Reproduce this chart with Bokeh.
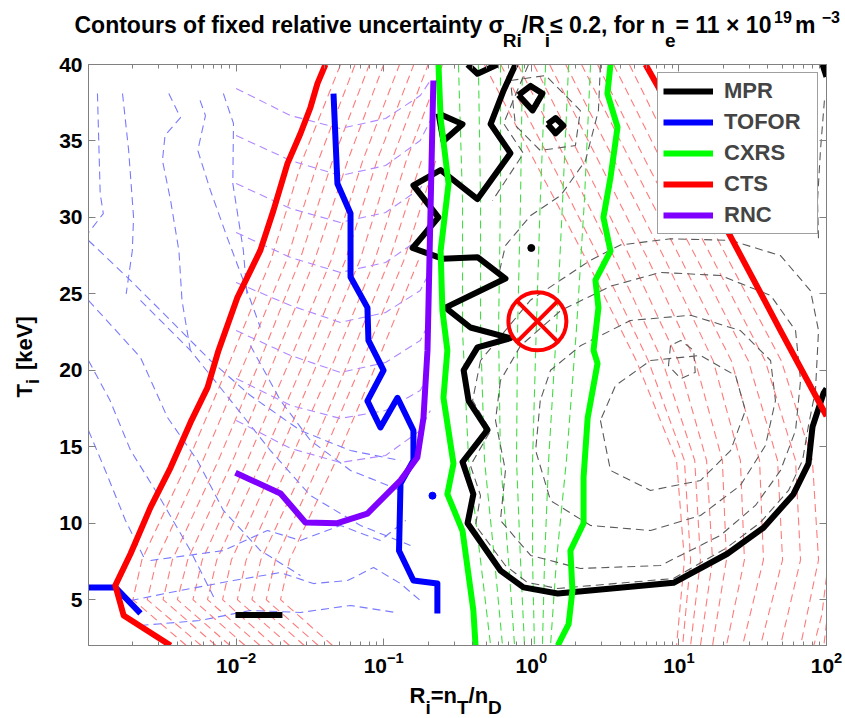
import math
from bokeh.plotting import figure
from bokeh.layouts import row, column
from bokeh.models import (Range1d, LogAxis, LinearAxis, FixedTicker, LogTickFormatter,
                          CustomJSTickFormatter, ColumnDataSource)
from bokeh.core.properties import value
from bokeh.embed import file_html
from bokeh.resources import INLINE

# ---------------- thick contours (sigma_R/R = 0.2) ----------------
MPR_R = [0.782, 0.649, 0.530, 0.722, 0.432, 0.243, 0.159, 0.235, 0.157, 0.250, 0.432, 0.668,
         0.262, 0.387, 0.722, 0.432, 0.348, 0.376, 0.505, 0.342, 0.405, 0.370, 0.618, 0.885,
         1.51, 9.19, 21.3, 37.4, 59.7, 75.5, 80.4, 95.5, 100]
MPR_T = [40, 38.3, 36.1, 34.2, 31.2, 33.1, 32.1, 30.0, 28.0, 27.3, 27.4, 26.0,
         24.1, 22.8, 22.1, 21.5, 20.0, 18.0, 16.1, 14.0, 11.9, 10.0, 6.9, 5.8,
         5.4, 6.1, 8.0, 9.7, 11.9, 13.9, 16.3, 18.5, 18.8]
MPR_ISLANDS_R = [[0.370, 0.432, 0.590],
                 [0.818, 0.989, 1.19, 1.02, 0.818],
                 [1.29, 1.46, 1.65, 1.46, 1.29],
                 [0.235, 0.342, 0.254, 0.235],
                 [0.0099, 0.0206],
                 [94, 100]]
MPR_ISLANDS_T = [[40, 39.4, 40],
                 [38.0, 38.6, 38.1, 37.0, 38.0],
                 [36.1, 36.5, 36.0, 35.5, 36.1],
                 [36.8, 36.1, 35.0, 36.8],
                 [4.0, 4.0],
                 [40, 39.2]]
MPR_DOT_R, MPR_DOT_T = [1.0], [28.0]

TOFOR_R = [0.0457, 0.0486, 0.0596, 0.0596, 0.0776, 0.0788, 0.0998, 0.0776, 0.095, 0.124,
           0.159, 0.159, 0.130, 0.127, 0.159, 0.231, 0.231]
TOFOR_T = [38.1, 32.2, 30.25, 26.1, 24.1, 21.95, 20.0, 18.0, 16.26, 18.2,
           16.06, 14.1, 12.6, 8.2, 6.25, 6.06, 4.1]
TOFOR_LEFT_R = [0.001, 0.00152, 0.00225]
TOFOR_LEFT_T = [5.8, 5.8, 4.1]
TOFOR_DOT_R, TOFOR_DOT_T = [0.214], [11.8]

CXRS_LOW_R = [0.235, 0.243, 0.275, 0.243, 0.25, 0.270, 0.254, 0.297, 0.270, 0.342, 0.405, 0.419]
CXRS_LOW_T = [40, 36.5, 32.2, 27.8, 23.9, 21.3, 18.2, 13.9, 11.9, 9.5, 4.3, 2.0]
CXRS_HIGH_R = [3.44, 3.28, 3.84, 3.44, 3.08, 3.44, 2.72, 2.85, 2.64, 2.81, 2.41, 2.26, 2.26,
               1.84, 1.90, 1.79, 1.51]
CXRS_HIGH_T = [40, 38.1, 35.9, 32.6, 30.0, 27.8, 25.9, 24.1, 21.3, 20.45, 16.9, 13.0, 10.0,
               8.2, 5.6, 3.4, 2.0]

CTS_LOW_R = [0.0036, 0.00173, 0.00152, 0.00193, 0.00263, 0.0036, 0.00491, 0.0064, 0.0076,
             0.0102, 0.0146, 0.0179, 0.0223, 0.0273, 0.0319, 0.0356, 0.0403]
CTS_LOW_T = [2.0, 3.96, 5.93, 8.02, 11.03, 13.64, 16.59, 18.87, 21.3,
             24.76, 27.84, 30.45, 33.53, 35.49, 37.19, 38.76, 40.0]
CTS_HIGH_R = [5.94, 7.28, 17.7, 21.3, 48.8, 95.5, 100]
CTS_HIGH_T = [40, 38.5, 30.25, 29.14, 22.6, 17.37, 17.0]

RNC_R = [0.0099, 0.02, 0.0295, 0.0486, 0.0776, 0.13, 0.169, 0.186, 0.198, 0.217]
RNC_T = [13.3, 11.94, 10.05, 10.0, 10.63, 12.8, 14.3, 16.9, 21.3, 38.95]

TARGET_R, TARGET_T = [1.1], [23.2]

# ---------------- thin dashed contours (other uncertainty levels) ----------------
CTS_DASH_R = [
    [0.0046, 0.0020, 0.0023, 0.0047, 0.0091, 0.0172, 0.028, 0.051],
    [0.0058, 0.0025, 0.0029, 0.0059, 0.0115, 0.022, 0.036, 0.064],
    [0.0073, 0.0032, 0.0037, 0.0075, 0.0145, 0.027, 0.045, 0.080],
    [0.0091, 0.0040, 0.0047, 0.0094, 0.018, 0.034, 0.057, 0.100],
    [0.0115, 0.0051, 0.0059, 0.0118, 0.023, 0.044, 0.072, 0.128],
    [0.0145, 0.0064, 0.0074, 0.0148, 0.029, 0.055, 0.090, 0.160],
    [0.018, 0.0081, 0.0093, 0.0186, 0.036, 0.069, 0.113, 0.200],
    [0.023, 0.0102, 0.0117, 0.023, 0.046, 0.087, 0.142, 0.250],
    [0.029, 0.0128, 0.0147, 0.030, 0.058, 0.109, 0.180],
    [0.036, 0.0160, 0.0185, 0.037, 0.072, 0.137, 0.225],
    [0.045, 0.020, 0.023, 0.047, 0.091, 0.172],
    [4.62, 9.64, 21.7, 49.5, 80.3, 88.3, 66.7],
    [3.61, 7.62, 17.1, 38.5, 61.7, 66.7, 48.8],
    [2.81, 5.94, 13.4, 29.6, 46.6, 50.4, 35.7],
    [2.19, 4.70, 10.4, 22.7, 35.2, 37.4, 27.0],
    [1.71, 3.66, 8.11, 17.1, 26.1, 27.8, 21.0],
    [1.33, 2.85, 6.22, 12.9, 19.7, 21.0, 16.9],
    [1.04, 2.22, 4.78, 9.93, 15.4, 16.9, 14.0],
    [0.81, 1.73, 3.72, 7.74, 12.8, 14.0, 12.0],
    [0.62, 1.35, 2.94, 6.22, 10.9, 12.0, 10.6],
    [0.48, 1.05, 2.37, 5.16, 9.64, 10.9, 9.64],
    [100, 93, 82],
    [100, 96],
]
CTS_DASH_T = [
    [2, 5, 7.6, 14, 20.6, 27.2, 33.7, 40],
    [2, 5, 7.6, 14, 20.6, 27.2, 33.7, 40],
    [2, 5, 7.6, 14, 20.6, 27.2, 33.7, 40],
    [2, 5, 7.6, 14, 20.6, 27.2, 33.7, 40],
    [2, 5, 7.6, 14, 20.6, 27.2, 33.7, 40],
    [2, 5, 7.6, 14, 20.6, 27.2, 33.7, 40],
    [2, 5, 7.6, 14, 20.6, 27.2, 33.7, 40],
    [2, 5, 7.6, 14, 20.6, 27.2, 33.7, 40],
    [2, 5, 7.6, 14, 20.6, 27.2, 33.7],
    [2, 5, 7.6, 14, 20.6, 27.2, 33.7],
    [2, 5, 7.6, 14, 20.6, 27.2],
    [40, 33.7, 27.2, 20.6, 14.1, 7.6, 2.0],
    [40, 33.7, 27.2, 20.6, 14.1, 7.6, 2.0],
    [40, 33.7, 27.2, 20.6, 14.1, 7.6, 2.0],
    [40, 33.7, 27.2, 20.6, 14.1, 7.6, 2.0],
    [40, 33.7, 27.2, 20.6, 14.1, 7.6, 2.0],
    [40, 33.7, 27.2, 20.6, 14.1, 7.6, 2.0],
    [40, 33.7, 27.2, 20.6, 14.1, 7.6, 2.0],
    [40, 33.7, 27.2, 20.6, 14.1, 7.6, 2.0],
    [40, 33.7, 27.2, 20.6, 14.1, 7.6, 2.0],
    [40, 33.7, 27.2, 20.6, 14.1, 7.6, 2.0],
    [6.5, 4.0, 2.0],
    [3.5, 2.0],
]

TOFOR_DASH_R = [
    [0.00115, 0.0012, 0.00126, 0.001],
    [0.0017, 0.00187, 0.00202, 0.00198, 0.0018],
    [0.0035, 0.0042, 0.0033, 0.00317, 0.0036, 0.0041, 0.0043, 0.0049],
    [0.0057, 0.0062, 0.0055, 0.0067, 0.0087, 0.0112, 0.0146],
    [0.0082, 0.0096, 0.0095, 0.0112, 0.0119],
    [0.001, 0.00193, 0.0036, 0.0067, 0.0125, 0.0273, 0.0596, 0.130],
    [0.001, 0.00225, 0.00343, 0.00547, 0.0082, 0.0146, 0.0273],
    [0.001, 0.0014, 0.00193, 0.00293, 0.0049, 0.00724],
    [0.001, 0.0013, 0.00178, 0.00243],
    [0.00225, 0.0049, 0.0092, 0.0171, 0.0319, 0.0697, 0.152],
    [0.0125, 0.020, 0.0319, 0.0596, 0.130],
    [0.00193, 0.0042, 0.0096, 0.020, 0.0334, 0.0569, 0.0853, 0.130, 0.177],
    [0.00263, 0.0082, 0.0163, 0.0273, 0.0509, 0.095, 0.141],
    [0.00225, 0.0057, 0.0125, 0.0273, 0.0596, 0.120],
]
TOFOR_DASH_T = [
    [38.1, 31.56, 30.25, 29.0],
    [38.1, 34.4, 30.0, 27.8, 25.0],
    [38.1, 36.53, 35.36, 33.72, 31.1, 27.8, 24.56, 21.3],
    [37.65, 36.66, 34.38, 31.76, 28.69, 25.87, 22.8],
    [38.1, 36.14, 32.22, 27.84, 24.76],
    [28.49, 25.87, 23.26, 20.64, 18.35, 16.06, 14.75, 14.1],
    [24.57, 20.84, 16.91, 14.1, 10.83, 8.21, 6.58],
    [20.64, 18.02, 14.75, 11.94, 8.21, 4.94],
    [16.06, 13.45, 10.18, 7.56],
    [24.57, 21.3, 18.02, 14.75, 11.81, 9.85, 8.54],
    [21.62, 18.02, 15.41, 13.45, 12.14],
    [4.94, 5.6, 6.25, 6.77, 6.05, 6.25, 7.1, 6.05, 4.94],
    [7.56, 8.21, 9.52, 8.87, 9.85, 8.87, 10.18],
    [3.31, 3.64, 4.29, 4.16, 4.62, 4.16],
]

RNC_DASH_R = [0.01, 0.0234, 0.0509, 0.103, 0.177, 0.207]
RNC_DASH_T = [
    [38.43, 36.66, 35.81, 36.47, 37.97, 38.95],
    [35.36, 33.72, 32.74, 33.39, 35.03, 36.34],
    [32.22, 30.58, 29.67, 30.32, 31.89, 33.07],
    [29.01, 27.38, 26.4, 27.05, 28.62, 29.8],
    [25.74, 24.24, 23.13, 23.78, 25.22, 26.53],
    [22.6, 20.97, 19.86, 20.51, 21.95, 23.26],
    [19.46, 17.7, 16.85, 17.37, 18.68, 19.99],
    [16.72, 14.89, 13.97, 14.43, 16.06, 17.37],
]

CXRS_DASH_T = [40, 31.1, 22.6, 14.1, 7.56, 2.0]
CXRS_DASH_R = [
    [0.321, 0.342, 0.342, 0.376, 0.453, 0.530],
    [0.438, 0.453, 0.453, 0.482, 0.564, 0.638],
    [0.618, 0.618, 0.600, 0.618, 0.701, 0.770],
    [0.871, 0.845, 0.807, 0.794, 0.845, 0.899],
    [1.25, 1.15, 1.08, 1.02, 1.02, 1.05],
    [1.79, 1.63, 1.48, 1.31, 1.23, 1.19],
    [2.52, 2.29, 2.02, 1.73, 1.48, 1.35],
]

MPR_DASH_R = [
    [0.453, 0.40, 0.530, 0.387, 0.453, 0.419, 0.668, 0.942, 1.51, 9.18, 20.7, 35.7, 55.3, 68.8,
     75.5, 84.2, 88.3, 78.0, 48.8, 22.4, 8.77, 4.02, 2.52, 1.58, 0.99, 0.453],
    [0.618, 0.572, 0.668, 0.618, 0.99, 2.15, 7.50, 19.1, 33.0, 48.8, 61.7, 66.7, 61.7, 41.8,
     19.1, 7.50, 3.44, 1.58, 0.845, 0.618],
    [1.15, 1.07, 1.35, 2.52, 6.42, 14.0, 26.1, 38.6, 45.1, 41.8, 26.1, 12.0, 4.70, 2.15, 1.35, 1.15],
    [2.94, 3.44, 6.42, 14.0, 22.4, 28.2, 24.2, 14.0, 6.42, 3.72, 2.94],
    [8.77, 8.5, 10.3, 12.9, 12.6, 10.3, 8.77],
    [0.957, 0.794, 0.649, 0.885, 0.546],
    [0.722, 1.25, 2.15, 1.99, 1.15, 0.782, 0.722],
    [2.94, 2.85, 2.33, 1.58, 0.99, 0.668, 0.60],
    [96.8, 91.0, 86.9, 88.3],
]
MPR_DASH_T = [
    [20.64, 18.02, 16.06, 13.77, 11.8, 9.85, 7.23, 6.12, 5.73, 6.38, 8.34, 10.05, 12.14, 14.1,
     16.39, 18.68, 22.6, 25.2, 27.5, 28.5, 28.6, 28.2, 27.2, 25.9, 24.6, 20.64],
    [19.33, 16.72, 13.45, 10.18, 7.89, 7.04, 7.23, 9.2, 11.16, 13.45, 16.06, 19.33, 22.6, 24.9,
     26.2, 26.4, 25.5, 23.9, 21.6, 19.33],
    [18.02, 14.75, 11.48, 9.85, 9.52, 10.5, 12.47, 15.08, 18.02, 20.64, 22.6, 23.6, 23.26, 21.6,
     20.0, 18.02],
    [16.72, 13.45, 12.14, 12.79, 14.75, 17.37, 19.66, 20.97, 20.64, 19.0, 16.72],
    [21.62, 20.3, 19.46, 19.86, 21.3, 21.95, 21.62],
    [40, 38.17, 36.14, 34.18, 31.1],
    [38.95, 39.28, 36.99, 34.7, 34.38, 36.0, 38.95],
    [40, 36.99, 33.72, 31.43, 30.12, 28.16, 26.2],
    [37.65, 34.38, 31.1, 28.5],
]

# ---------------- axes / texts ----------------
X_MAJOR = [1e-2, 1e-1, 1e0, 1e1, 1e2]
Y_MAJOR = [5, 10, 15, 20, 25, 30, 35, 40]
LEGEND_LABELS = ["MPR", "TOFOR", "CXRS", "CTS", "RNC"]
# (text, kind, extra horizontal kern in px before the run)
TITLE_PARTS = [("Contours of fixed relative uncertainty σ", "n", 0), ("Ri", "sub", 0),
               ("/R", "n", 0), ("i", "sub", 0), ("≤ 0.2, for n", "n", 0), ("e", "sub", 0),
               (" = 11 × 10", "n", 0), ("19", "sup", -5), (" m", "n", 3), ("−3", "sup", 0)]
XLABEL_PARTS = [("R", "n", 0), ("i", "sub", 0), ("=n", "n", 0), ("T", "sub", 0),
                ("/n", "n", 0), ("D", "sub", 0)]
YLABEL_PARTS = [("T", "n", 0), ("i", "sub", 0), ("[keV]", "n", 9)]

GRAY = "#808080"
FONT = "Liberation Sans"

# layout geometry (pixels)
W, H = 845, 718
YLAB_W = 54
TITLE_H = 50
MAIN_W = W - YLAB_W
B_LEFT, B_RIGHT, B_TOP, B_BOTTOM = 34, 19, 14, 37
FRAME_W, FRAME_H = 738, 581
FRAME_X0 = YLAB_W + B_LEFT            # page x of the frame's left edge
MAIN_H = B_TOP + FRAME_H + B_BOTTOM
XLAB_H = H - TITLE_H - MAIN_H
XLAB_TOP = TITLE_H + MAIN_H
SHIFT = 0.30   # baseline correction of the text glyph (in em)


def no_align(f):
    try:
        f.frame_align = False
    except Exception:
        pass


p = figure(width=MAIN_W, height=MAIN_H, x_axis_type="log",
           x_range=Range1d(1e-3, 1e2), y_range=Range1d(2, 40),
           output_backend="svg", toolbar_location=None, title=None,
           min_border_left=B_LEFT, min_border_right=B_RIGHT,
           min_border_top=B_TOP, min_border_bottom=B_BOTTOM)
p.grid.visible = False
p.outline_line_color = GRAY
p.background_fill_color = "white"
p.border_fill_color = "white"

minor = [m * 10.0 ** d for d in range(-3, 2) for m in range(2, 10)]
xt = FixedTicker(ticks=X_MAJOR, minor_ticks=minor)
yt = FixedTicker(ticks=Y_MAJOR)


def style_axis(ax, labelled=True):
    ax.axis_line_color = GRAY
    ax.major_tick_line_color = GRAY
    ax.minor_tick_line_color = GRAY
    ax.major_tick_in = 7
    ax.major_tick_out = 0
    ax.minor_tick_in = 4
    ax.minor_tick_out = 0
    ax.major_label_text_font = FONT
    ax.major_label_text_font_style = "bold"
    ax.major_label_text_color = "black"
    if labelled:
        ax.major_label_text_font_size = "21px"
    else:
        ax.major_label_text_font_size = "0px"
        ax.major_label_standoff = 0


bx = p.xaxis[0]
bx.ticker = xt
bx.formatter = LogTickFormatter()
style_axis(bx)
bx.major_label_standoff = 6

ly = p.yaxis[0]
ly.ticker = yt
style_axis(ly)
ly.major_label_standoff = 6

tx = LogAxis(ticker=xt, formatter=CustomJSTickFormatter(code="return ''"))
style_axis(tx, labelled=False)
p.add_layout(tx, "above")
ry = LinearAxis(ticker=yt, formatter=CustomJSTickFormatter(code="return ''"))
style_axis(ry, labelled=False)
p.add_layout(ry, "right")

# ---------------- dashed contours ----------------
DASH = "8 5"
p.multi_line(xs=CTS_DASH_R, ys=CTS_DASH_T, line_color="#ff7a7a", line_width=1.1, line_dash=DASH)
p.multi_line(xs=TOFOR_DASH_R, ys=TOFOR_DASH_T, line_color="#7a7aff", line_width=1.1, line_dash=DASH)
p.multi_line(xs=[RNC_DASH_R] * len(RNC_DASH_T), ys=RNC_DASH_T, line_color="#b088ff",
             line_width=1.1, line_dash=DASH)
p.multi_line(xs=CXRS_DASH_R, ys=[CXRS_DASH_T] * len(CXRS_DASH_R), line_color="#44dd44",
             line_width=1.1, line_dash=DASH)
p.multi_line(xs=MPR_DASH_R, ys=MPR_DASH_T, line_color="#5a5a5a", line_width=1.1, line_dash=DASH)

# ---------------- thick contours ----------------
LW = 6
p.line(MPR_R, MPR_T, line_color="black", line_width=LW, line_join="round",
       legend_label=LEGEND_LABELS[0])
p.multi_line(xs=MPR_ISLANDS_R, ys=MPR_ISLANDS_T, line_color="black", line_width=LW, line_join="round")
p.scatter(MPR_DOT_R, MPR_DOT_T, size=7, color="black")

p.line(TOFOR_R, TOFOR_T, line_color="#0000ff", line_width=LW, line_join="round",
       legend_label=LEGEND_LABELS[1])
p.line(TOFOR_LEFT_R, TOFOR_LEFT_T, line_color="#0000ff", line_width=LW, line_join="round")
p.scatter(TOFOR_DOT_R, TOFOR_DOT_T, size=7, color="#0000ff")

p.line(CXRS_LOW_R, CXRS_LOW_T, line_color="#00ff00", line_width=LW, line_join="round",
       legend_label=LEGEND_LABELS[2])
p.line(CXRS_HIGH_R, CXRS_HIGH_T, line_color="#00ff00", line_width=LW, line_join="round")

p.line(CTS_LOW_R, CTS_LOW_T, line_color="#ff0000", line_width=LW, line_join="round",
       legend_label=LEGEND_LABELS[3])
p.line(CTS_HIGH_R, CTS_HIGH_T, line_color="#ff0000", line_width=LW, line_join="round")

p.line(RNC_R, RNC_T, line_color="#7f00ff", line_width=LW, line_join="round",
       legend_label=LEGEND_LABELS[4])

p.scatter(TARGET_R, TARGET_T, marker="circle_x", size=58, line_color="#ff0000",
          line_width=4, fill_color=None)

# ---------------- legend ----------------
lg = p.legend[0]
lg.location = "top_right"
lg.margin = 8
lg.padding = 5
lg.spacing = 5
lg.glyph_width = 50
lg.glyph_height = 22
lg.label_height = 22
lg.label_width = 88
lg.label_standoff = 11
lg.label_text_font = FONT
lg.label_text_font_style = "bold"
lg.label_text_font_size = "22px"
lg.border_line_color = "#404040"
lg.border_line_width = 1
lg.background_fill_alpha = 1.0

# ---------------- rich-text title / axis labels (separate text panels) ----------------
AW = {' ': 278, 'C': 722, 'o': 611, 'n': 611, 't': 333, 'u': 611, 'r': 389, 's': 556, 'f': 333,
      'i': 278, 'x': 556, 'e': 556, 'd': 611, 'l': 278, 'a': 556, 'v': 556, 'c': 556, 'y': 556,
      'σ': 617, 'R': 722, '/': 278, '≤': 549, '0': 556, '.': 278, '2': 556, ',': 278, '=': 584,
      '1': 556, '×': 584, '9': 556, 'm': 889, '−': 584, '3': 556, 'T': 611, 'D': 722, '[': 333,
      ']': 333, 'k': 556, 'V': 667}


def tw(s, fs):
    return sum(AW.get(c, 556) for c in s) * fs / 1000.0


def text_panel(w, h, xr, bl=0, br=0):
    f = figure(width=w, height=h, x_range=Range1d(0, xr), y_range=Range1d(0, h),
               output_backend="svg", toolbar_location=None, title=None,
               x_axis_location=None, y_axis_location=None, min_border=0,
               min_border_left=bl, min_border_right=br, min_border_top=0, min_border_bottom=0)
    f.grid.visible = False
    f.outline_line_color = None
    f.background_fill_color = "white"
    f.border_fill_color = "white"
    no_align(f)
    return f


def rich(f, segs, start, base, fs, sfs, sdy, pfs, pdy, vertical=False):
    """Lay out text runs one after another; `base` is the baseline (up = +)."""
    xs, ys, texts, fsz = [], [], [], []
    cur = start
    for t, k, kern in segs:
        s = fs if k == "n" else (sfs if k == "sub" else pfs)
        off = (0 if k == "n" else (-sdy if k == "sub" else pdy)) + SHIFT * s
        cur += kern
        if vertical:
            xs.append(base - off)
            ys.append(cur)
        else:
            xs.append(cur)
            ys.append(base + off)
        texts.append(t)
        fsz.append("%dpx" % s)
        cur += tw(t, s)
    src = ColumnDataSource(dict(x=xs, y=ys, text=texts, size=fsz))
    f.text(x="x", y="y", text="text", source=src, text_font=value(FONT),
           text_font_style="bold", text_font_size="size", text_color="black",
           text_align="left", text_baseline="alphabetic",
           angle=(math.pi / 2 if vertical else 0.0))


# title: page x 74 .. 841, baseline at page y = 31
title_fig = text_panel(W, TITLE_H, W)
rich(title_fig, TITLE_PARTS, 74, TITLE_H - 31, 23, 19, 15, 16, 10)

# x label: starts at page x = 409, baseline at page y = 702 (panel frame starts at FRAME_X0)
xlab_fig = text_panel(MAIN_W, XLAB_H, FRAME_W, bl=B_LEFT, br=B_RIGHT)
rich(xlab_fig, XLABEL_PARTS, 409 - FRAME_X0, XLAB_H - (702 - XLAB_TOP), 22, 19, 11, 16, 10)

# y label: baseline at page x = 31, starts at page y = 395 and reads upwards
ylab_fig = text_panel(YLAB_W, H - TITLE_H, YLAB_W)
rich(ylab_fig, YLABEL_PARTS, H - 397, 31, 22, 18, 7, 16, 10, vertical=True)

layout = column(title_fig, row(ylab_fig, column(p, xlab_fig)))

open("out.html", "w").write(file_html(layout, INLINE))
